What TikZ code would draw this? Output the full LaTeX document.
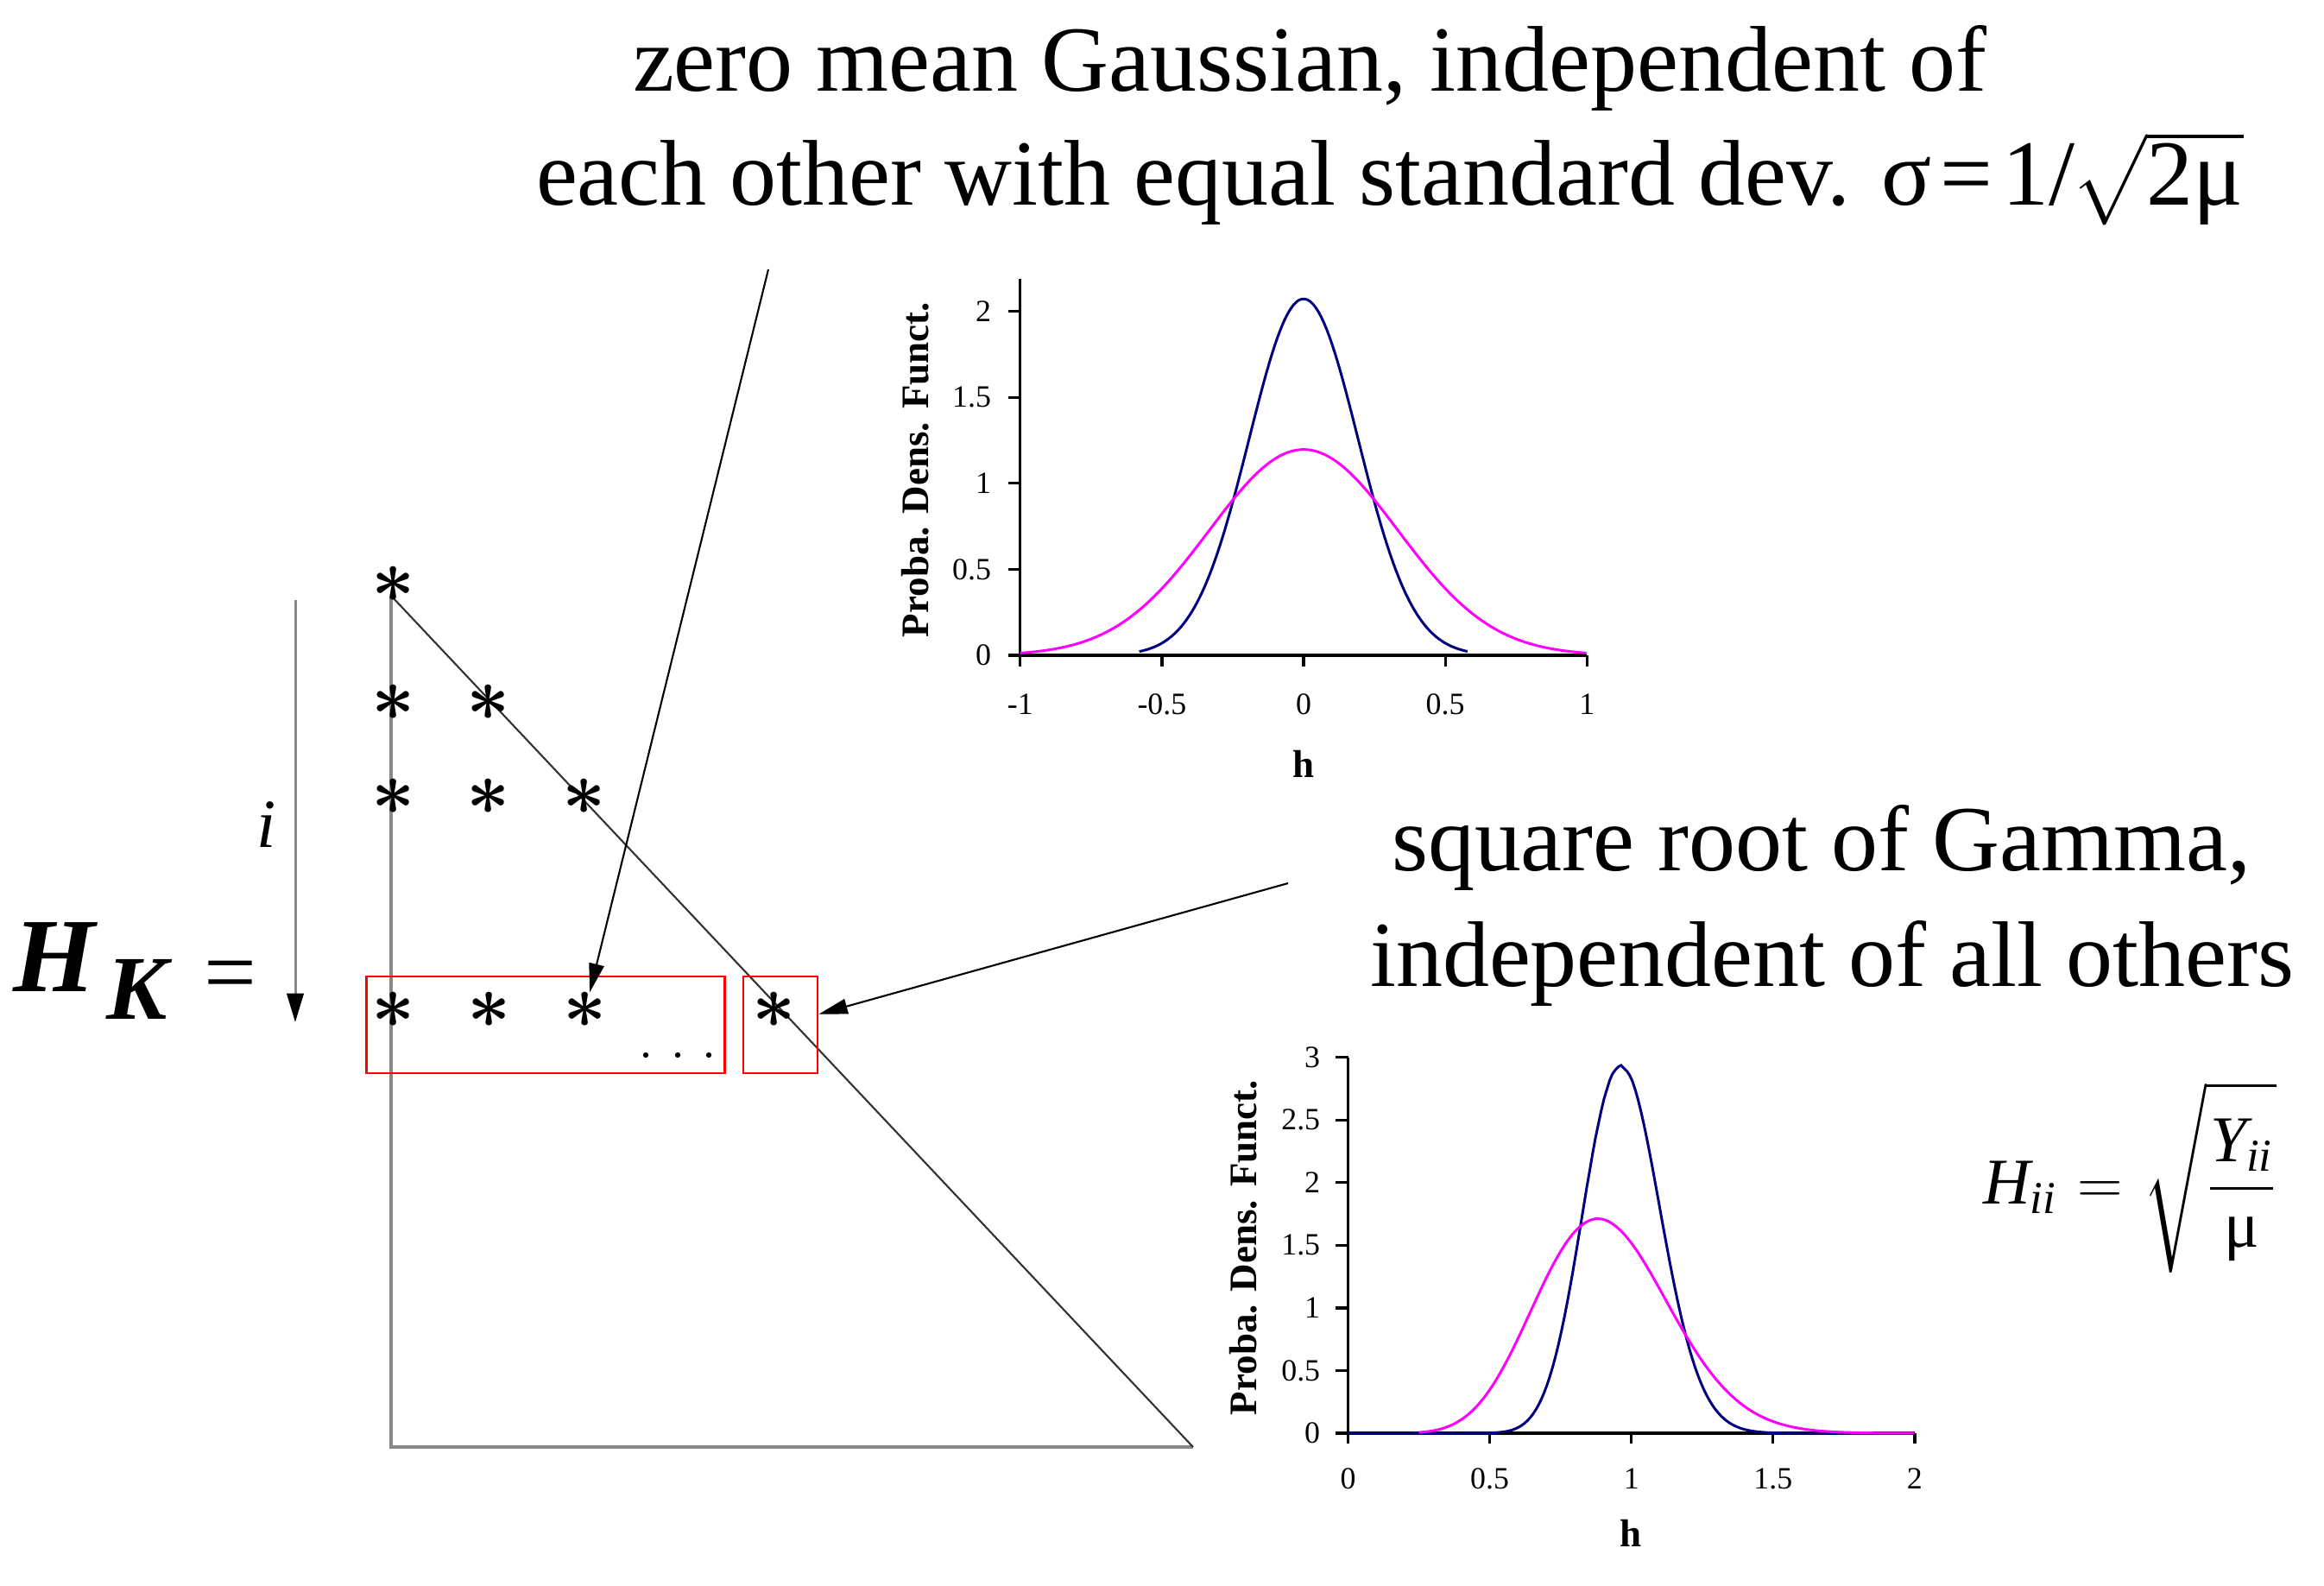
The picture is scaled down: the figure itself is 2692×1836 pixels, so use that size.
\documentclass[tikz,border=0pt]{standalone}
\usepackage{amsmath}
\usepackage{fontspec}
\setmainfont{Liberation Serif}
\usetikzlibrary{arrows.meta}
\definecolor{navyc}{RGB}{0,0,128}
\definecolor{pinkc}{RGB}{255,0,255}
\definecolor{linegray}{RGB}{136,136,136}
\definecolor{diaggray}{RGB}{50,50,50}
\begin{document}
\begin{tikzpicture}[x=0.01cm,y=-0.01cm,
  txt/.style={inner sep=0pt, outer sep=0pt},
  bigtxt/.style={txt, font=\fontsize{30.7}{36}\selectfont},
  starnode/.style={inner sep=0pt, outer sep=0pt, font=\fontsize{24}{24}\selectfont\boldmath},
  redbox/.style={draw=red, line width=0.8pt, inner sep=0pt, minimum height=1.12cm},
  axis/.style={black, line width=0.9pt},
  curve/.style={line width=0.85pt},
  tick/.style={font=\fontsize{10.2}{12}\selectfont, inner sep=0pt},
  axlabel/.style={font=\fontsize{12.8}{14}\selectfont\bfseries, inner sep=0pt},
  arr/.style={black, line width=0.6pt, -{Triangle[length=9.5pt,width=5pt]}},
]
\useasboundingbox (0,0) rectangle (2692,1836);

% title
\node[bigtxt, anchor=base west] (t1) at (733,105) {zero mean Gaussian, independent of};
\node[bigtxt, anchor=base west] (t2) at (621,237) {each other with equal standard dev. σ\kern3pt=\kern3pt1/\kern-1pt$\sqrt{\text{2μ}}$};

% right text
\node[bigtxt, anchor=base west] (g1) at (1612,1008) {square root of Gamma,};
\node[bigtxt, anchor=base west] (g2) at (1587,1142) {independent of all others};

% H_K =
\node[txt, anchor=base west, font=\fontsize{34.7}{40}\selectfont\bfseries\itshape] (hk) at (15,1148) {H};
\node[txt, anchor=base west, font=\fontsize{30}{36}\selectfont\bfseries\itshape] (kk) at (123,1180) {K};
\node[bigtxt, anchor=base west] (eq) at (236,1162) {=};
\node[txt, anchor=base west, font=\fontsize{22.7}{26}\selectfont\itshape] (iv) at (297,981) {i};

% vertical arrow
\coordinate (va1) at (342,695);
\coordinate (va2) at (342,1184);
\draw[linegray, line width=0.85pt, -{Triangle[length=9.5pt,width=5.5pt,color=black]}] (va1) -- (va2);

% matrix triangle
\coordinate (mtop) at (453,690);
\coordinate (mbl) at (453,1676);
\coordinate (mbr) at (1382,1676);
\draw[linegray, line width=0.9pt] (mtop) -- (mbl) -- (mbr);
\draw[diaggray, line width=0.6pt] (mtop) -- (mbr);

% asterisks
\node[starnode] (s11) at (456,677) {$\ast$};
\node[starnode] (s21) at (456,814) {$\ast$};
\node[starnode] (s22) at (566,814) {$\ast$};
\node[starnode] (s31) at (456,923) {$\ast$};
\node[starnode] (s32) at (566,923) {$\ast$};
\node[starnode] (s33) at (677,923) {$\ast$};
\node[starnode] (s41) at (456,1170) {$\ast$};
\node[starnode] (s42) at (567,1170) {$\ast$};
\node[starnode] (s43) at (678,1170) {$\ast$};
\node[starnode] (s44) at (897,1170) {$\ast$};
\fill (748,1222) circle (0.9pt) (785,1222) circle (0.9pt) (821,1222) circle (0.9pt);

% red boxes
\node[redbox, minimum width=4.14cm] (box1) at (632,1187) {};
\node[redbox, minimum width=0.86cm] (box2) at (904,1187) {};

% arrows
\coordinate (a1s) at (890,312);
\draw[arr] (a1s) -- (s43);
\coordinate (a2s) at (1492,1023);
\draw[arr] (a2s) -- (box2);

% H_ii formula
\node[txt, anchor=west, font=\fontsize{21.5}{24}\selectfont] (hii) at (2297,1364)
  {$\text{\itshape H}_{\text{\itshape ii}} \mathrel{\kern1pt=\kern1pt} \sqrt{\dfrac{\rule{0pt}{1.05em}\text{\itshape Y}_{\text{\itshape ii}}}{\rule[-0.35em]{0pt}{0.5em}\text{μ}}}$};

% top plot
\begin{scope}[shift={(1510,759)}, x=3.28cm, y=1.99cm]
  \draw[axis] (-1,2.19) -- (-1,0) -- (1,0);
  \foreach \v [count=\i] in {-1,-0.5,0,0.5,1} {
    \draw[axis] (\v,0) -- ++(0pt,-3.7pt);
    \node[tick, yshift=-16.2pt] (tx\i) at (\v,0) {\v};
  }
  \foreach \v [count=\i] in {0,0.5,1,1.5,2} {
    \draw[axis] (-1,\v) -- ++(-4pt,0pt);
    \node[tick, anchor=east, xshift=-9.4pt] (ty\i) at (-1,\v) {\v};
  }
  \draw[curve, navyc] plot[domain=-0.58:0.58, samples=120] (\x,{2.07296*exp(-13.5*\x*\x)});
  \draw[curve, pinkc] plot[domain=-1:1, samples=150] (\x,{1.19683*exp(-4.5*\x*\x)});
\end{scope}
\node[axlabel] (hx1) at (1510,885) {h};
\node[axlabel, rotate=90] (yl1) at (1060,544) {Proba. Dens. Funct.};

% bottom plot
\begin{scope}[shift={(1561.5,1660)}, x=3.28cm, y=1.45cm]
  \draw[axis] (0,3) -- (0,0) -- (2,0);
  \foreach \v [count=\i] in {0,0.5,1,1.5,2} {
    \draw[axis] (\v,0) -- ++(0pt,-3.5pt);
    \node[tick, yshift=-15pt] (bx\i) at (\v,0) {\v};
  }
  \foreach \v [count=\i] in {0,0.5,1,1.5,2,2.5,3} {
    \draw[axis] (0,\v) -- ++(-4pt,0pt);
    \node[tick, anchor=east, xshift=-9pt] (by\i) at (0,\v) {\v};
  }
  \draw[curve, navyc] (0,0) -- plot[domain=0.3:1.8, samples=150] (\x,{exp(14.5409 + 25*ln(\x) - 13.5*\x*\x)});
  \draw[curve, pinkc] plot[domain=0.25:2, samples=150] (\x,{exp(4.91772 + 7*ln(\x) - 4.5*\x*\x)});
\end{scope}
\node[axlabel] (hx2) at (1889,1776) {h};
\node[axlabel, rotate=90] (yl2) at (1440,1445) {Proba. Dens. Funct.};
\end{tikzpicture}
\end{document}
